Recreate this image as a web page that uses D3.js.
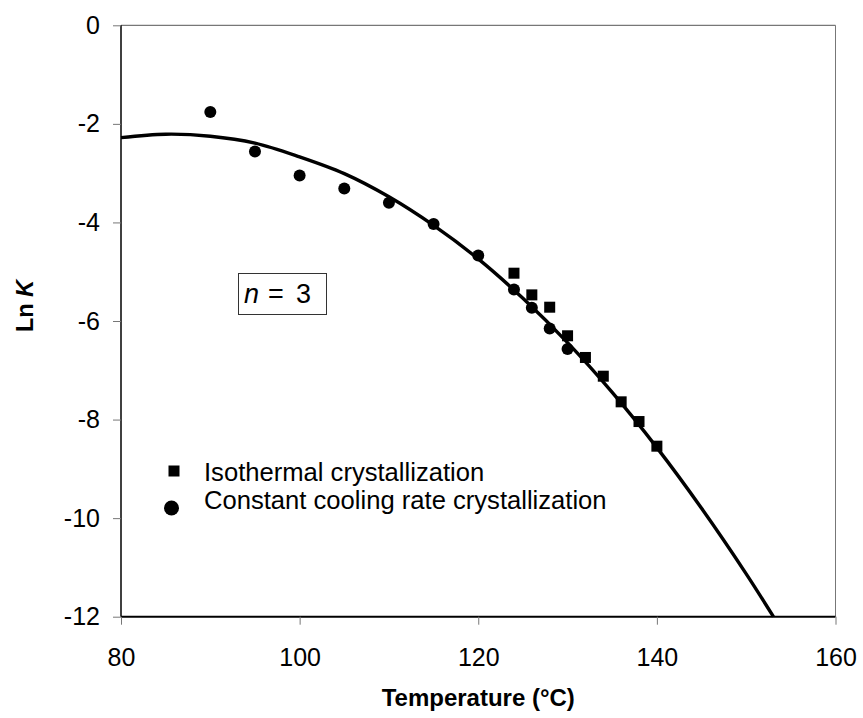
<!DOCTYPE html>
<html>
<head>
<meta charset="utf-8">
<script src="https://cdn.jsdelivr.net/npm/d3@7"></script>
<style>
  html, body { margin: 0; padding: 0; background: #fff; }
  svg { display: block; }
  text { font-family: "Liberation Sans", Arial, sans-serif; fill: #000; }
</style>
</head>
<body>
<svg id="chart" width="863" height="718"></svg>
<script>
// ---- data ----
const isoT      = [124, 126, 128, 130, 132, 134, 136, 138, 140];
const isoLnK    = [-5.03, -5.47, -5.72, -6.30, -6.74, -7.12, -7.64, -8.04, -8.54];
const coolT     = [90, 95, 100, 105, 110, 115, 120, 124, 126, 128, 130];
const coolLnK   = [-1.76, -2.56, -3.05, -3.31, -3.60, -4.03, -4.67, -5.36, -5.73, -6.15, -6.57];
const fitT      = [80, 85, 90, 95, 100, 105, 110, 115, 120, 125, 130, 135, 140, 145, 150, 153.05];
const fitLnK    = [-2.28, -2.21, -2.25, -2.39, -2.67, -3.01, -3.48, -4.06, -4.74, -5.54, -6.44, -7.45, -8.57, -9.80, -11.13, -12.0];
const xTicks    = [80, 100, 120, 140, 160];
const yTicks    = [0, -2, -4, -6, -8, -10, -12];
const legendLabels = ["Isothermal crystallization", "Constant cooling rate crystallization"];

const svg = d3.select("#chart");
const L = 121, R = 835.5, T = 25.3, B = 616.7;
const x = d3.scaleLinear().domain([80, 160]).range([L, R]);
const y = d3.scaleLinear().domain([0, -12]).range([T, B]);

// plot area border (top/right thin grey)
svg.append("line").attr("x1", L).attr("x2", R).attr("y1", T).attr("y2", T)
  .attr("stroke", "#555").attr("stroke-width", 1);
svg.append("line").attr("x1", R).attr("x2", R).attr("y1", T).attr("y2", B)
  .attr("stroke", "#777").attr("stroke-width", 1);

// axes
const xAxis = d3.axisBottom(x).tickValues(xTicks).tickSize(8).tickPadding(24).tickFormat(d3.format("d"));
const gx = svg.append("g").attr("transform", `translate(0,${B})`).call(xAxis);
gx.select(".domain").attr("stroke", "#000").attr("stroke-width", 2);
gx.selectAll(".tick line").attr("stroke", "#777").attr("stroke-width", 1);
gx.selectAll(".tick text").attr("font-size", 25).attr("font-family", "Liberation Sans, Arial, sans-serif").attr("fill", "#000");

const yAxis = d3.axisLeft(y).tickValues(yTicks).tickSize(8).tickPadding(13).tickFormat(d3.format("d"));
const gy = svg.append("g").attr("transform", `translate(${L},0)`).call(yAxis);
gy.select(".domain").attr("stroke", "#000").attr("stroke-width", 1.5);
gy.selectAll(".tick line").attr("stroke", "#777").attr("stroke-width", 1);
gy.selectAll(".tick text").attr("font-size", 25).attr("font-family", "Liberation Sans, Arial, sans-serif").attr("fill", "#000");
gy.selectAll(".tick text").text(d => d === 0 ? "0" : "-" + Math.abs(d));
gx.select(".domain").attr("d", `M${L},0H${R}`);
gy.select(".domain").attr("d", `M0,${T}V${B}`);

// fitted curve
const line = d3.line().x(d => x(d[0])).y(d => y(d[1])).curve(d3.curveCatmullRom.alpha(0.5));
svg.append("path").datum(fitT.map((t, i) => [t, fitLnK[i]]))
  .attr("d", line).attr("fill", "none").attr("stroke", "#000").attr("stroke-width", 3.4);

// points
const sq = 11;
svg.append("g").selectAll("rect").data(isoT.map((t, i) => [t, isoLnK[i]])).join("rect")
  .attr("x", d => x(d[0]) - sq / 2).attr("y", d => y(d[1]) - sq / 2)
  .attr("width", sq).attr("height", sq).attr("fill", "#000");
svg.append("g").selectAll("circle").data(coolT.map((t, i) => [t, coolLnK[i]])).join("circle")
  .attr("cx", d => x(d[0])).attr("cy", d => y(d[1])).attr("r", 6).attr("fill", "#000");

// legend
svg.append("rect").attr("x", 174 - 5.5).attr("y", 471 - 5.5).attr("width", 11).attr("height", 11).attr("fill", "#000");
svg.append("circle").attr("cx", 171.5).attr("cy", 508).attr("r", 7.5).attr("fill", "#000");
svg.append("text").attr("x", 204).attr("y", 480.5).attr("font-size", 25.6).text(legendLabels[0]);
svg.append("text").attr("x", 204).attr("y", 509).attr("font-size", 25.6).text(legendLabels[1]);

// n = 3 box
svg.append("rect").attr("x", 238.5).attr("y", 273.5).attr("width", 88).attr("height", 41)
  .attr("fill", "#fff").attr("stroke", "#333").attr("stroke-width", 1);
const nt = svg.append("text").attr("y", 303).attr("font-size", 27);
nt.append("tspan").attr("x", 244).attr("font-style", "italic").text("n");
nt.append("tspan").attr("x", 268).text("=");
nt.append("tspan").attr("x", 296).text("3");

// axis titles
svg.append("text").attr("x", (L + R) / 2).attr("y", 706).attr("text-anchor", "middle")
  .attr("font-size", 24).attr("font-weight", "bold").text("Temperature (°C)");
const yt = svg.append("text").attr("transform", "translate(33,306) rotate(-90)")
  .attr("text-anchor", "middle").attr("font-size", 23.5).attr("font-weight", "bold");
yt.append("tspan").text("Ln ");
yt.append("tspan").attr("font-style", "italic").text("K");
</script>
</body>
</html>
